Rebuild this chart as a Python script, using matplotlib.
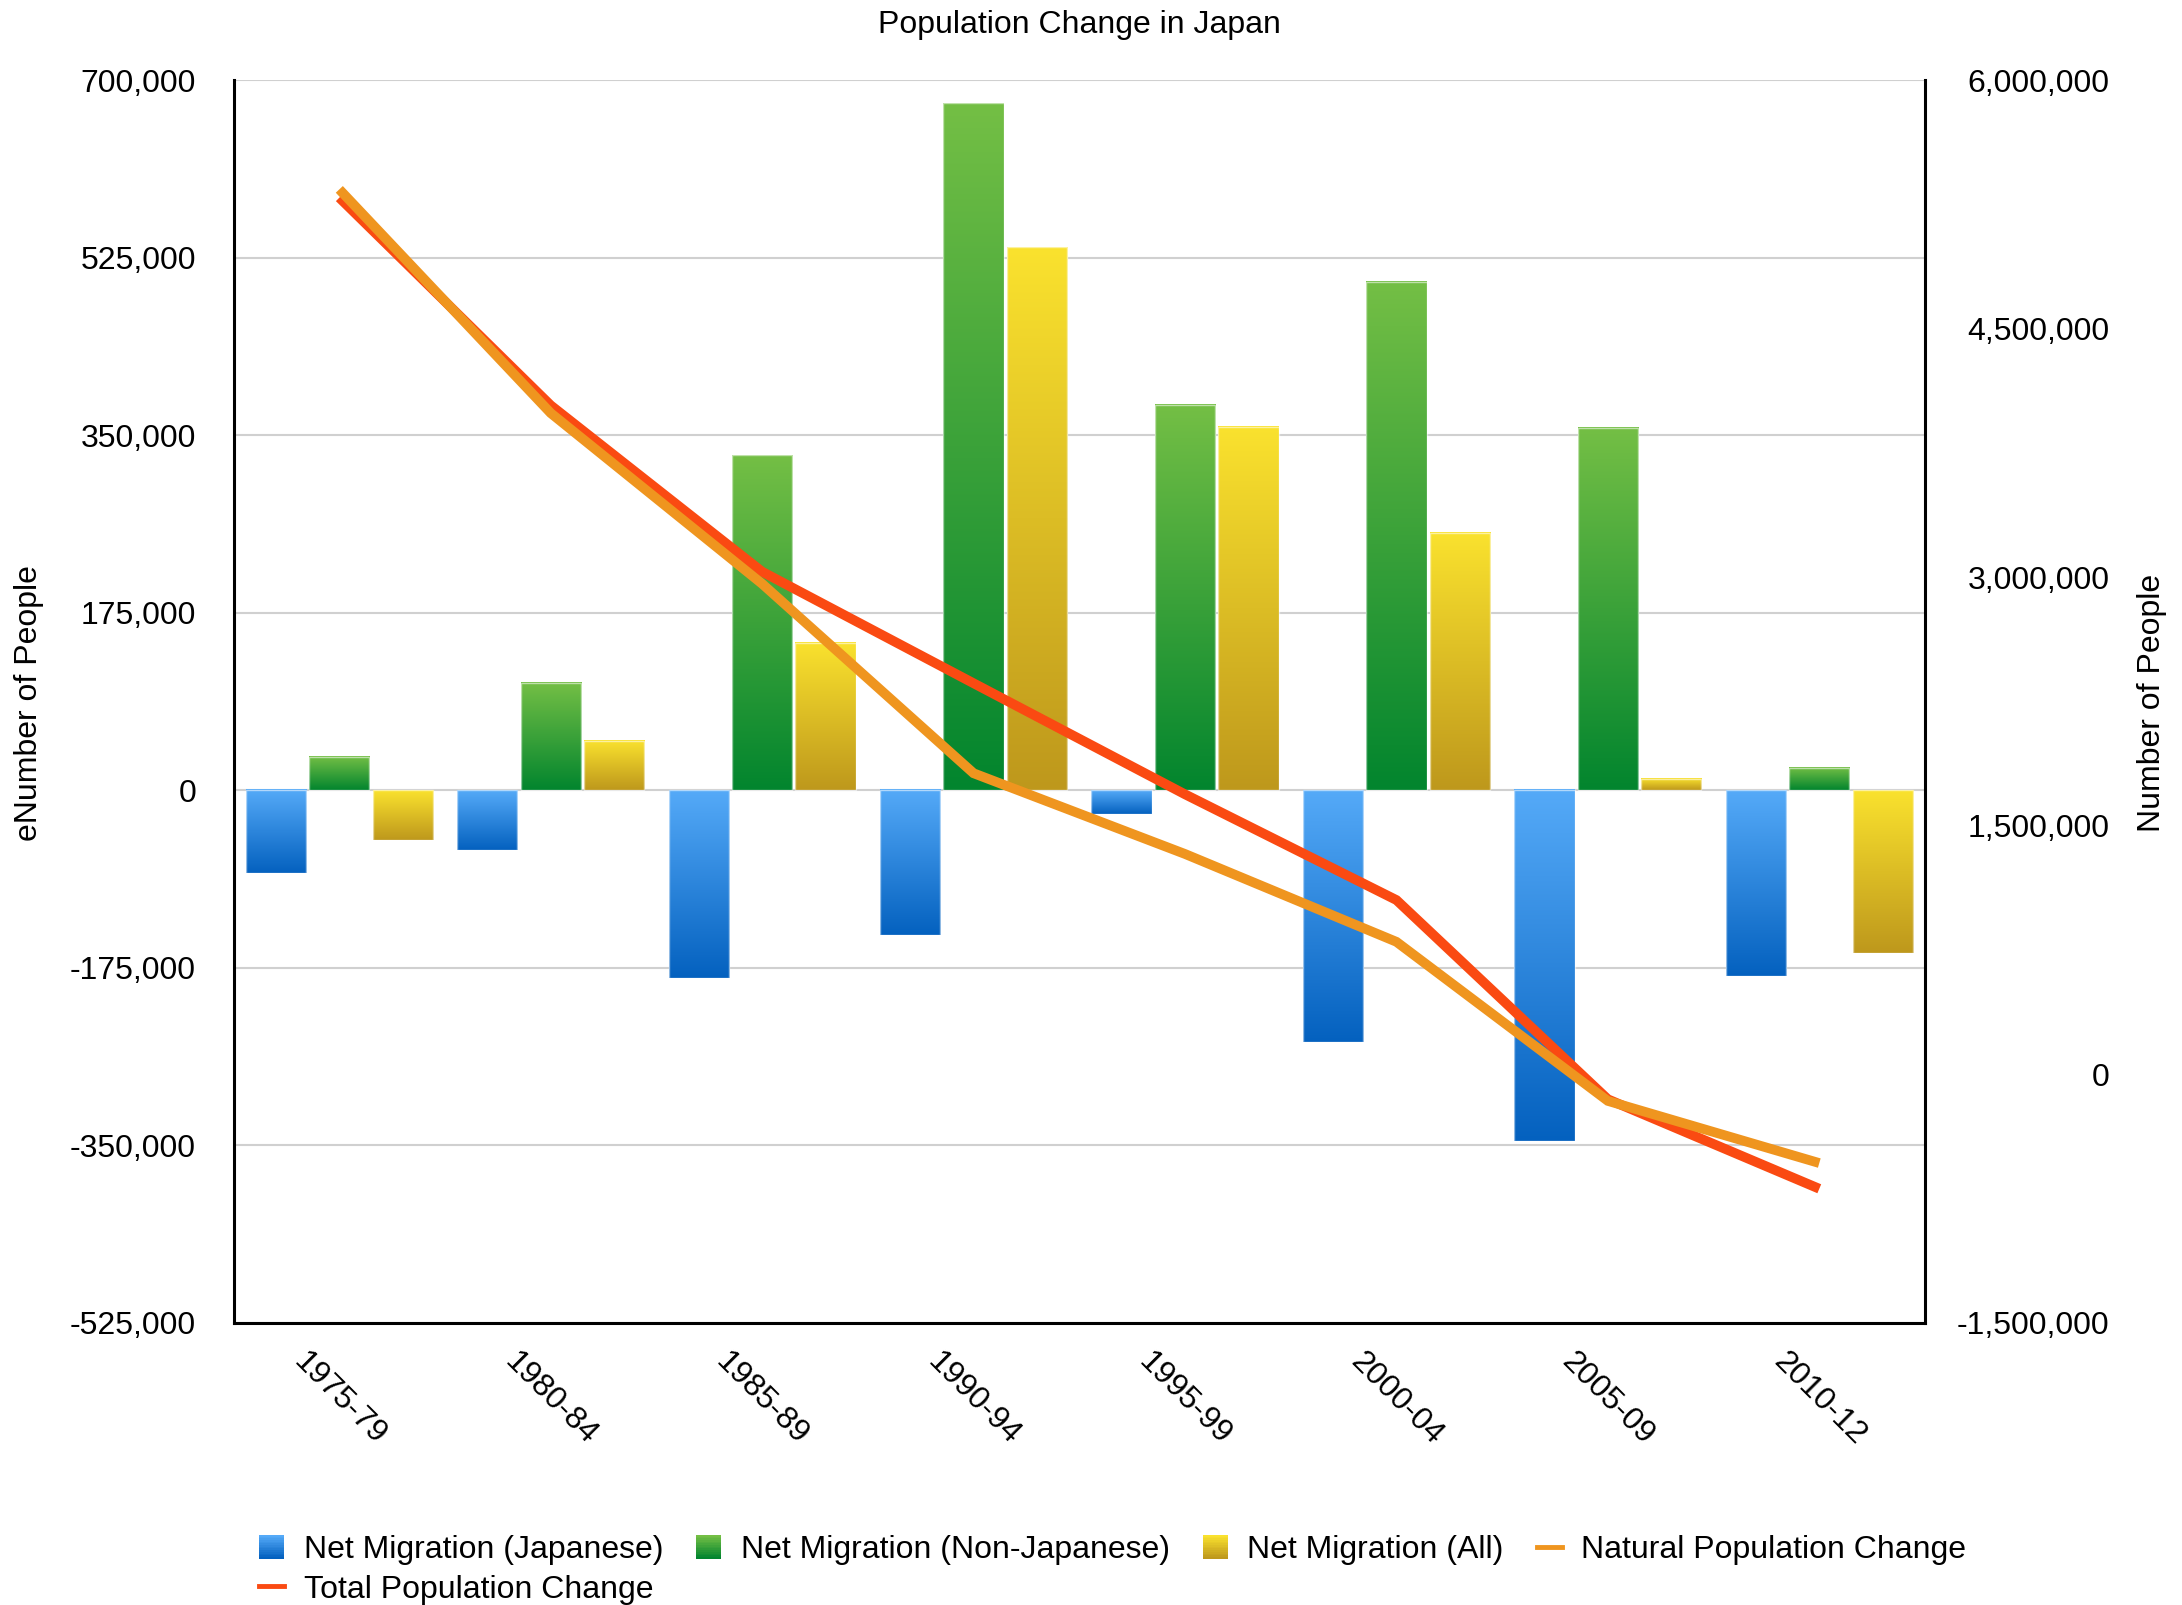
import numpy as np
import matplotlib
matplotlib.use('Agg')
import matplotlib.pyplot as plt
from matplotlib.colors import LinearSegmentedColormap
from matplotlib.patches import Patch, Rectangle
from matplotlib.lines import Line2D
from matplotlib.legend_handler import HandlerBase
from matplotlib.ticker import FuncFormatter

plt.rcParams['font.family'] = ['Liberation Sans', 'DejaVu Sans']

periods = ['1975-79', '1980-84', '1985-89', '1990-94', '1995-99', '2000-04', '2005-09', '2010-12']

# net migration (left axis)
mig_japanese = [-82000, -59000, -185000, -143000, -23000, -248000, -346000, -183000]
mig_non_japanese = [33000, 106000, 330000, 677000, 380000, 501000, 357000, 22000]
mig_all = [-49000, 49000, 145000, 535000, 358000, 254000, 11000, -160000]

# population change (right axis)
natural_change = [5340000, 3990000, 2960000, 1817000, 1330000, 800000, -160000, -535000]
total_change = [5290000, 4037000, 3033000, 2360000, 1690000, 1052000, -150000, -690000]

left_ticks = [-525000, -350000, -175000, 0, 175000, 350000, 525000, 700000]
right_ticks = [-1500000, 0, 1500000, 3000000, 4500000, 6000000]

FS = 23
W, H = 2182, 1605

BLUE = ('#55aaf8', '#0461bf')
GREEN = ('#74bf45', '#02852e')
YELLOW = ('#fae22e', '#be981c')


def gradient_bars(ax, bars, cols):
    # fill each bar with a vertical gradient, light at top, dark at bottom
    cmap = LinearSegmentedColormap.from_list('g', list(cols))
    grad = np.linspace(0, 1, 256).reshape(-1, 1)
    for b in bars:
        x0, w = b.get_x(), b.get_width()
        y0, h = b.get_y(), b.get_height()
        lo, hi = min(y0, y0 + h), max(y0, y0 + h)
        ax.imshow(grad, extent=(x0, x0 + w, lo, hi), aspect='auto', cmap=cmap,
                  origin='upper', zorder=2, interpolation='bilinear')


class GradientHandler(HandlerBase):
    # legend square drawn as thin stripes so it looks like the bars
    def __init__(self, cols):
        HandlerBase.__init__(self)
        self.cmap = LinearSegmentedColormap.from_list('g', list(cols))

    def create_artists(self, legend, orig_handle, xdescent, ydescent, width, height, fontsize, trans):
        n = 14
        arts = []
        for i in range(n):
            y = -ydescent + height * (n - 1 - i) / n
            r = Rectangle((-xdescent, y), width, height / n * 1.15,
                          facecolor=self.cmap(i / (n - 1)), edgecolor='none', lw=0, transform=trans)
            arts.append(r)
        return arts


fig = plt.figure(figsize=(W / 100, H / 100), dpi=100)
ax = fig.add_axes([233.6 / W, 1 - 1323 / H, (1925 - 233.6) / W, (1323 - 80) / H])

x = np.arange(len(periods))
bw = 0.285
edge = (1, 1, 1, 0.55)
b1 = ax.bar(x - 0.30, mig_japanese, bw, facecolor='none', edgecolor=edge, lw=1, zorder=3)
b2 = ax.bar(x, mig_non_japanese, bw, facecolor='none', edgecolor=edge, lw=1, zorder=3)
b3 = ax.bar(x + 0.30, mig_all, bw, facecolor='none', edgecolor=edge, lw=1, zorder=3)
gradient_bars(ax, b1, BLUE)
gradient_bars(ax, b2, GREEN)
gradient_bars(ax, b3, YELLOW)

ax.set_xlim(-0.5, len(periods) - 0.5)
ax.set_ylim(-525000, 700000)
ax.set_yticks(left_ticks)
ax.yaxis.set_major_formatter(FuncFormatter(lambda v, p: '{:,.0f}'.format(v)))
ax.yaxis.grid(True, color='#d0d0d0', lw=1.5)
ax.set_axisbelow(True)
ax.set_xticks(x)
ax.set_xticklabels(periods, rotation=-45, ha='center', va='top')
ax.tick_params(axis='y', length=0, pad=27, labelsize=FS)
ax.tick_params(axis='x', length=0, pad=17, labelsize=FS)
ax.spines['top'].set_visible(False)
ax.spines['right'].set_visible(False)
for s in ['left', 'bottom']:
    ax.spines[s].set_linewidth(2.2)
    ax.spines[s].set_color('black')

ax2 = ax.twinx()
ax2.plot(x, total_change, color='#fa4a12', lw=7, solid_capstyle='butt', solid_joinstyle='miter', zorder=3)
ax2.plot(x, natural_change, color='#ef951f', lw=7, solid_capstyle='butt', solid_joinstyle='miter', zorder=4)
ax2.set_ylim(-1500000, 6000000)
ax2.set_yticks(right_ticks)
ax2.yaxis.set_major_formatter(FuncFormatter(lambda v, p: '{:,.0f}'.format(v)))
ax2.tick_params(axis='y', length=0, pad=133, labelsize=FS)
plt.setp(ax2.get_yticklabels(), ha='right')
for s in ['top', 'left', 'bottom']:
    ax2.spines[s].set_visible(False)
ax2.spines['right'].set_linewidth(2.2)
ax2.spines['right'].set_color('black')

fig.text(1079 / W, 1 - 25 / H, 'Population Change in Japan', ha='center', va='center', fontsize=FS)
fig.text(29 / W, 1 - 703 / H, 'eNumber of People', rotation=90, ha='center', va='center', fontsize=FS)
fig.text(2152 / W, 1 - 703 / H, 'Number of People', rotation=90, ha='center', va='center', fontsize=FS)

h_jap = Patch(facecolor=BLUE[1])
h_non = Patch(facecolor=GREEN[1])
h_all = Patch(facecolor=YELLOW[1])
handles = [h_jap,
           Line2D([0], [0], color='#fa4a12', lw=3.5),
           h_non,
           h_all,
           Line2D([0], [0], color='#ef951f', lw=3.5)]
labels = ['Net Migration (Japanese)', 'Total Population Change',
          'Net Migration (Non-Japanese)', 'Net Migration (All)', 'Natural Population Change']
fig.legend(handles, labels, loc='center left', bbox_to_anchor=(259 / W, 1 - 1570 / H), ncol=4,
           frameon=False, fontsize=FS, handlelength=0.78, handleheight=0.75, handletextpad=0.62,
           columnspacing=1.03, labelspacing=0.3, borderpad=0, borderaxespad=0,
           handler_map={h_jap: GradientHandler(BLUE), h_non: GradientHandler(GREEN),
                        h_all: GradientHandler(YELLOW)})

fig.savefig('out.png', dpi=100)
